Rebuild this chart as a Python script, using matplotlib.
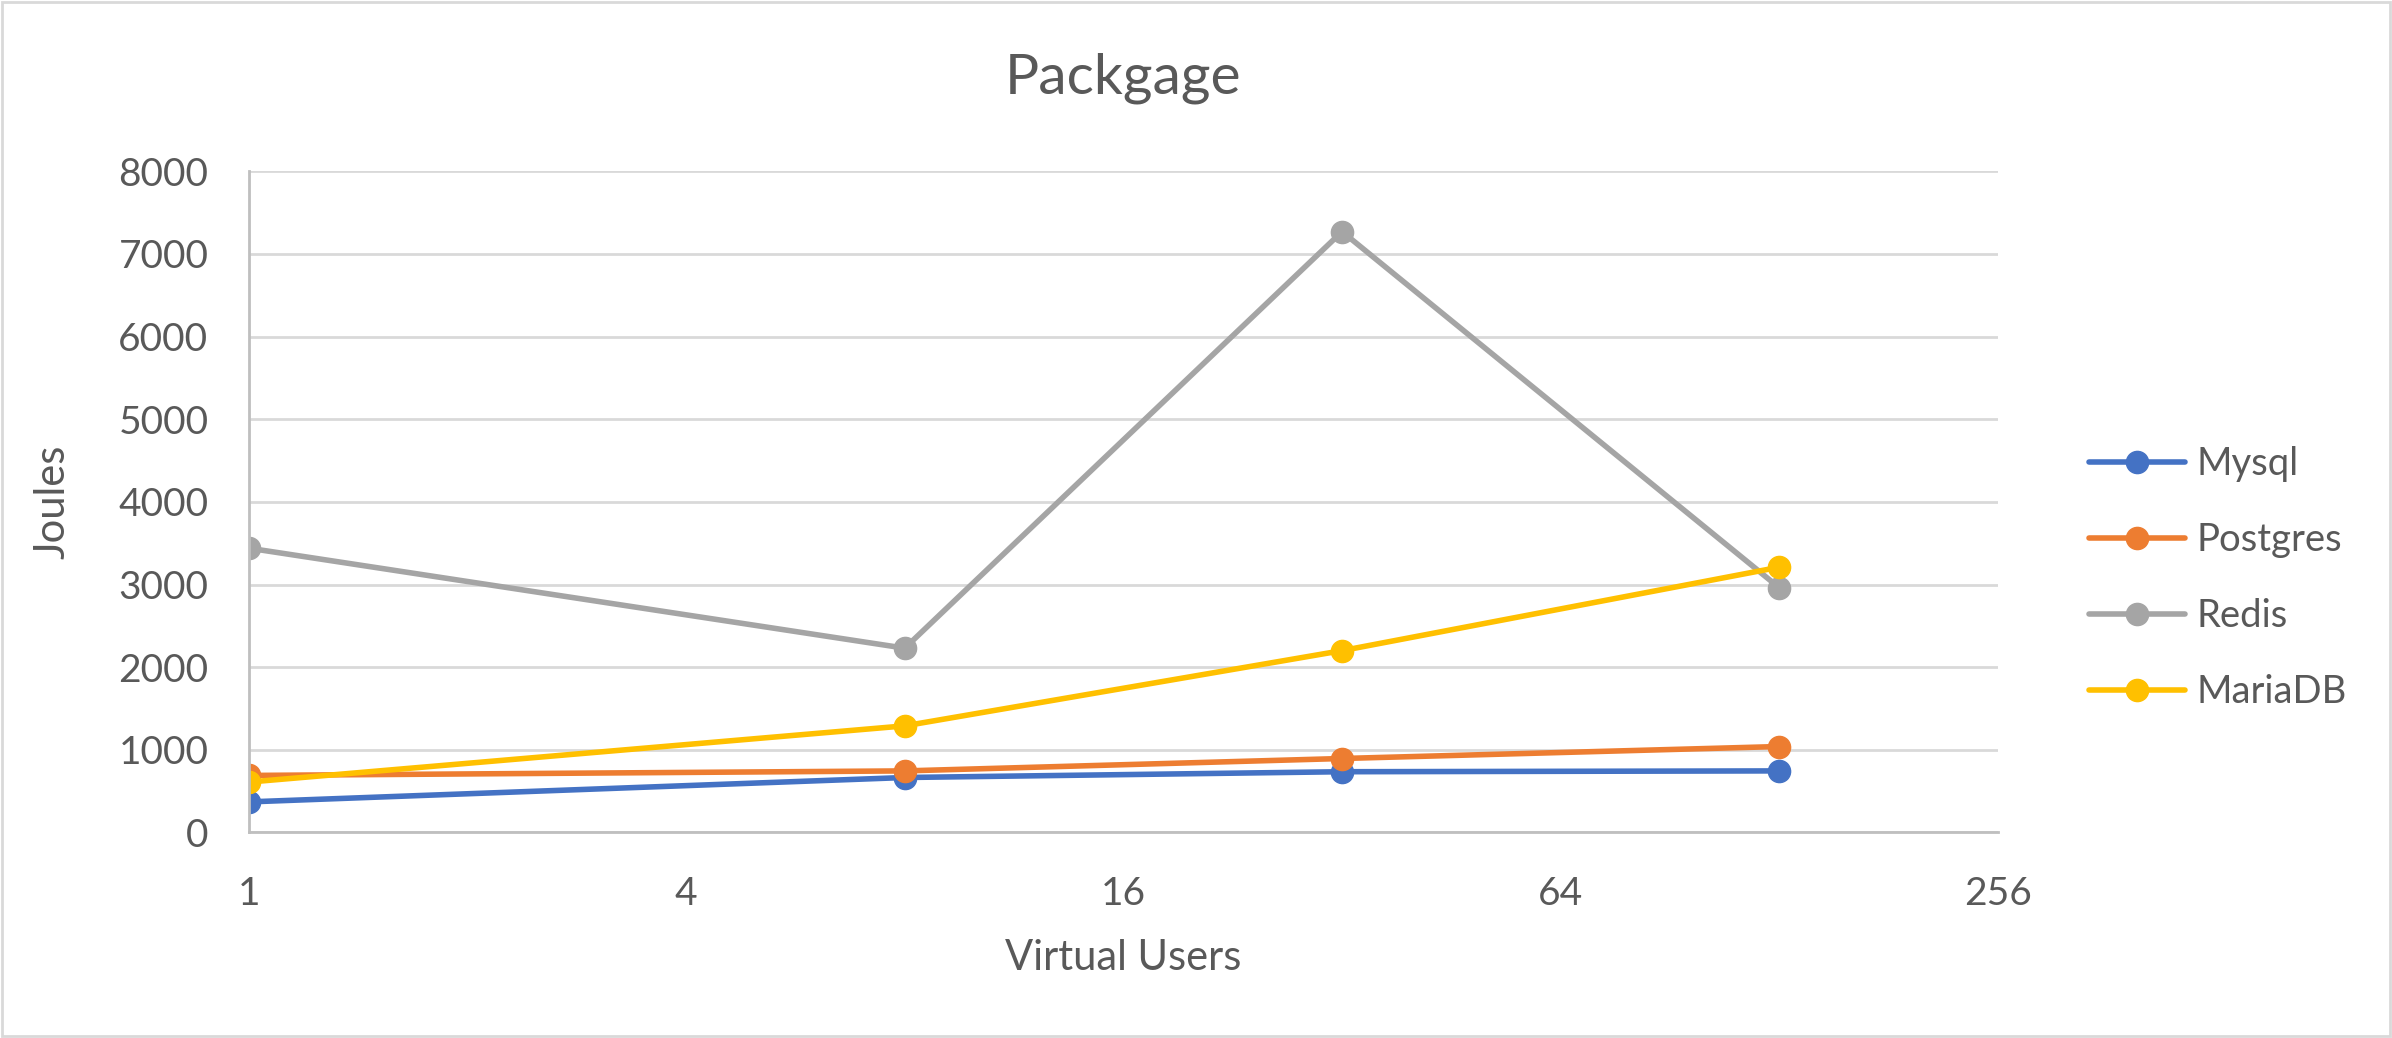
import matplotlib.pyplot as plt
from matplotlib.patches import Rectangle

# Data
users = [1, 8, 32, 128]
mysql = [370, 665, 735, 745]
postgres = [690, 745, 895, 1040]
redis = [3440, 2230, 7270, 2960]
mariadb = [610, 1290, 2200, 3210]

series = [("Mysql", mysql, "#4472C4"),
          ("Postgres", postgres, "#ED7D31"),
          ("Redis", redis, "#A5A5A5"),
          ("MariaDB", mariadb, "#FFC000")]

x_ticks = [1, 4, 16, 64, 256]
y_ticks = list(range(0, 8001, 1000))

plt.rcParams['font.family'] = ['Lato', 'DejaVu Sans']
text_col = "#595959"

fig = plt.figure(figsize=(23.92, 10.38), dpi=100)
ax = fig.add_axes([0.104, 0.198, 0.7313, 0.637])

for name, vals, col in series:
    ax.plot(users, vals, color=col, lw=4, marker='o', ms=16,
            label=name, solid_capstyle='round')

ax.set_xscale('log', base=2)
ax.set_xlim(1, 256)
ax.set_ylim(0, 8000)
ax.set_xticks(x_ticks)
ax.set_xticklabels([str(t) for t in x_ticks])
ax.set_yticks(y_ticks)
ax.minorticks_off()

ax.grid(axis='y', color="#D9D9D9", lw=2)
ax.set_axisbelow(True)
for s in ['top', 'right']:
    ax.spines[s].set_visible(False)
for s in ['left', 'bottom']:
    ax.spines[s].set_color("#BFBFBF")
    ax.spines[s].set_linewidth(2)

ax.tick_params(axis='both', length=0, labelsize=28, labelcolor=text_col)
ax.tick_params(axis='x', pad=31)
ax.tick_params(axis='y', pad=29)

ax.set_title("Packgage", fontsize=41, color=text_col, pad=56)
ax.set_xlabel("Virtual Users", fontsize=30, color=text_col, labelpad=20)
ax.set_ylabel("Joules", fontsize=30, color=text_col, labelpad=34)

fig.legend(loc='center left', bbox_to_anchor=(0.859, 0.443), frameon=False,
           fontsize=27.5, labelcolor=text_col, handlelength=2.5,
           labelspacing=1.05, handletextpad=0.3)

fig.patches.append(Rectangle((0.001, 0.002), 0.998, 0.996, transform=fig.transFigure,
                             fill=False, edgecolor="#D9D9D9", lw=2))

fig.savefig("out.png", dpi=100)
